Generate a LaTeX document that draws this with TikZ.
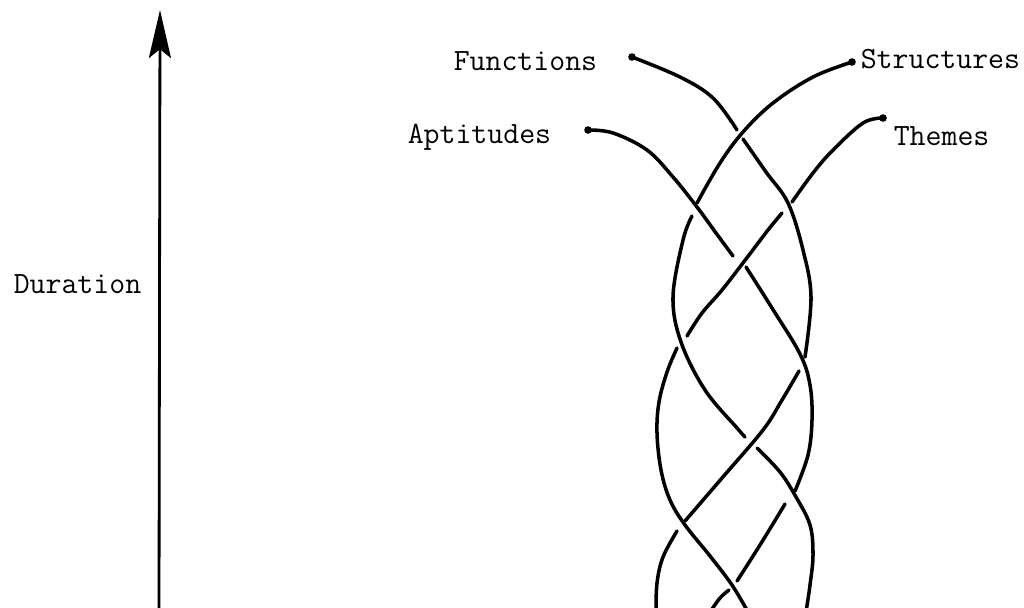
\documentclass[tikz,border=0pt]{standalone}
\usetikzlibrary{arrows.meta}
\begin{document}
\begin{tikzpicture}[x=0.025cm, y=-0.025cm, line width=2.5pt, line cap=round,
  strand/.style={smooth, tension=0.6},
  lbl/.style={font=\ttfamily\fontsize{22}{26}\selectfont, inner sep=0pt, anchor=base west}]
  \useasboundingbox (0,0) rectangle (1024,607);
  % time axis
  \coordinate (axisbot) at (159,612);
  \coordinate (axistop) at (160,10);
  \draw[line width=2pt, -{Stealth[length=1.2cm, width=0.55cm, inset=0.22cm]}] (axisbot) -- (axistop);
  \node[lbl] (duration) at (12,293) {Duration};
  % labels
  \node[lbl] (functions) at (452,70) {Functions};
  \node[lbl] (aptitudes) at (406,143) {Aptitudes};
  \node[lbl] (structures) at (859,68) {Structures};
  \node[lbl] (themes) at (892,145) {Themes};
  % strand ends
  \fill (588,130) circle (3.8);
  \fill (632,57) circle (3.8);
  \fill (852,62) circle (3.8);
  \fill (883,118) circle (3.8);
  % Aptitudes
  \draw plot[strand] coordinates {(588,130) (613,133) (647,150) (673,177) (697,207) (716,233) (733,256)};
  \draw plot[strand] coordinates {(746,267) (772,308) (800,354) (810,385) (812,420) (808,455) (795,491)};
  \draw plot[strand] coordinates {(785,504) (760,545) (737,581)};
  \draw plot[strand] coordinates {(729,590) (720,598) (710,612)};
  % Functions
  \draw plot[strand] coordinates {(632,57) (680,77) (713,98) (737,130)};
  \draw plot[strand] coordinates {(743,139) (766,172) (788,203) (803,250) (811,297) (805,357)};
  \draw plot[strand] coordinates {(799,371) (782,400) (763,430) (722,478) (685,521)};
  \draw plot[strand] coordinates {(677,531) (663,557) (657,583) (656,612)};
  % Structures
  \draw plot[strand] coordinates {(852,62) (813,77) (773,103) (743,132) (720,163) (697,203)};
  \draw plot[strand] coordinates {(692,216) (683,240) (673,297) (681,342) (705,390) (737,428) (745,437)};
  \draw plot[strand] coordinates {(757,448) (780,472) (796,497) (810,525) (813,555) (810,585) (806,612)};
  % Themes
  \draw plot[strand] coordinates {(883,118) (863,123) (833,150) (813,173) (792,202)};
  \draw plot[strand] coordinates {(782,213) (768,230) (746,259) (722,290) (702,313) (687,336)};
  \draw plot[strand] coordinates {(677,348) (667,372) (659,402) (657,433) (661,470) (670,500) (685,525) (710,556) (732,585) (748,612)};
\end{tikzpicture}
\end{document}
